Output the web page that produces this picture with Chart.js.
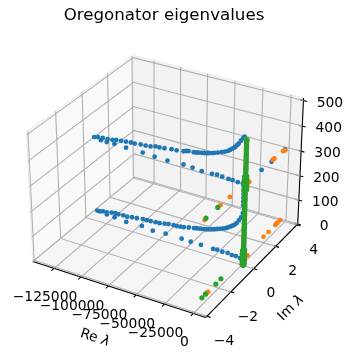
<!DOCTYPE html>
<html><head><meta charset="utf-8">
<style>html,body{margin:0;padding:0;background:#fff}canvas{display:block}</style>
<script src="https://cdn.jsdelivr.net/npm/chart.js@4"></script>
</head><body><canvas id="c" width="353" height="362"></canvas>
<script>
const titleText = "Oregonator eigenvalues";
const xLabel = "Re ", yLabel = "Im ", lambda = "λ";
const xTicks = [-125000,-100000,-75000,-50000,-25000,0];
const yTicks = [-4,-2,0,2,4];
const zTicks = [0,100,200,300,400,500];
const xLim = [-145000,10700], yLim = [-4.1,4.1], zLim = [0,510];

const blueRe = [-115900,-105100,-89800,-79000,-67300,-53000,-44900,-36800,-27800,-23300,-18800,-13400,-9800,-5300,-800,-128500,-123100,
 -134800,-131200,-126700,-122200,-117700,-114100,-109600,-105100,-100600,-97000,-91600,-87100,-82600,-78100,-74500,-70000,-63700,-59200,-53000,-50500,-48500,-44000,-41500,-39500,-37000,-35000,-32500,-30500,-28000,-26000,-23000,-19700,-17000,-14300,-12500,-10700,-9200,-8000,-6500,-5300,-3500,-1700,-400,
 -124400,-117000,-106000,-91200,-81000,-69000,-54300,-46000,-36700,-25700,-22000,-17400,-12700,-9000,-5400,-1700,
 -133600,-130900,-128100,-124400,-119800,-116100,-113300,-108700,-105000,-100400,-95800,-90300,-86600,-82900,-78300,-74600,-70000,-66300,-61700,-58900,-55500,-52400,-47800,-43200,-41000,-38600,-36300,-34000,-31700,-29400,-27000,-24700,-22400,-20100,-17800,-15500,-13600,-11800,-9900,-8100,-6700,-5400,-3500,-1700,-200,-100,-80,-70,-60,-60,-50,
 2200,3000,3150];
const blueIm = [0,0,0,0,0,0,0,0,0,0,0,0,0,0,0,0,0,
 0,0,0,0,0,0,0,0,0,0,0,0,0,0,0,0,0,0,0,0,0,0,0,0,0,0,0,0,0,0,0,0,0,0,0,0,0,0,0,0,0,0,0,
 0,0,0,0,0,0,0,0,0,0,0,0,0,0,0,0,
 0,0,0,0,0,0,0,0,0,0,0,0,0,0,0,0,0,0,0,0,0,0,0,0,0,0,0,0,0,0,0,0,0,0,0,0,0,0,0,0,0,0,0,0,0,0,0,0,0,0,0,
 1.33,2.14,3.37];
const blueZ = [339,337,336,333,332,334,332,328,329,331,329,327,327,325,327,339,338,
 344,348,350,351,353,357,359,361,363,363,366,367,369,375,375,377,381,382,386,390,392,393,395,397,399,401,403,406,409,412,417,423,428,434,440,447,452,458,466,473,486,498,505,
 40,38,33,36,30,34,33,32,32,30,32,30,32,28,29,26,
 44,44,48,48,54,56,55,57,56,60,62,66,66,67,69,70,74,77,79,79,81,83,88,92,94,96,98,100,102,105,108,112,116,120,124,128,133,139,144,150,156,163,176,190,209,240,255,270,285,300,318,
 327,327,327];

const orangeRe = [3150,3850,2370,2500,2300,2750,500,100,300,-100,100,200,0,100,0,-100,2000,-100,100,
 1000,1100,1000,1100,1000,1000,1100,1000,1000,1100,1000,1100,1000];
const orangeIm = [3.19,3.3,2.38,2.46,2.3,0.2,-1.24,-2.0,-3.3,3.2,3.5,2.4,1.95,3.05,3.25,-3.05,0.3,-2.95,-2.9,
 0,0,0,0,0,0,0,0,0,0,0,0,0];
const orangeZ = [327,327,327,327,327,327,327,327,327,28,28,28,28,28,28,28,28,28,28,
 60,105,150,195,240,285,360,385,410,435,460,485,497];

const greenRe = [0,-100,-200,0,-100,-100,
 1300,300,2200,400,2100,200,2300,500,300,2100,2200,200,2300,300,2100,400,2200,
 1300,1350,1300,1250,1300,1350,1300,1250,1300,1350,1300,1250,1300,1350,1300,1300,1250,1300,1350,1300,1250,1300,1350,1300,1250,1300,1350,1300,1300,1250,1300,1350,1300,1250,1300,1300,
 200,2400,300,2500,200,2400,300,2500,400,2300,300,2400,400,2300,
 1400,1350,1400,1450,1400,1350,1400,1450,1400,1350,1400,1450,1400,1350,1400,1450,1400,1350,1400,1450,1400,1400];
const greenIm = [-2.2,-3.15,-1.8,-2.25,-3.1,-3.4];
const greenZ = [327,327,28,28,28,28,
 0,3,8,12,16,20,24,28,31,35,39,43,47,52,56,60,65,
 70,76,82,89,95,101,108,114,120,127,133,139,146,152,158,165,171,177,184,190,197,203,209,216,222,229,235,242,248,255,261,268,274,281,287,294,
 300,305,310,315,319,323,327,331,335,339,343,348,352,357,
 362,369,376,383,390,397,404,411,418,425,432,439,446,453,460,467,474,481,488,493,495,497];

// mplot3d default view: elev 30, azim -60, dist 10, box aspect 4:4:3
const box = [1.19048,1.19048,0.89286];
const uAxis=[0.8660,0.5,0], vAxis=[-0.25,0.4330,0.8660], nAxis=[0.4330,-0.75,0.5];
function project(re,im,z){
  const d=[((re-xLim[0])/(xLim[1]-xLim[0])-.5)*box[0],((im-yLim[0])/(yLim[1]-yLim[0])-.5)*box[1],((z-zLim[0])/(zLim[1]-zLim[0])-.5)*box[2]];
  const dot=(a)=>a[0]*d[0]+a[1]*d[1]+a[2]*d[2];
  const depth=10-dot(nAxis);
  return {x:dot(uAxis)/depth,y:dot(vAxis)/depth};
}
const series=(r,i,z)=>z.map((zv,k)=>project(r[k]??0,i[k]??0,zv));
const seg=(pts,color,w)=>({type:'scatter',showLine:true,data:pts.map(p=>project(p[0],p[1],p[2])),borderColor:color,borderWidth:w,pointRadius:0,fill:false,tension:0,order:50});
const [x0,x1]=xLim,[y0,y1]=yLim,[z0,z1]=zLim;
const GRID='#b0b0b0', AXIS='#000000';
const gridSets=[
 ...xTicks.map(t=>seg([[t,y0,z0],[t,y1,z0],[t,y1,z1]],GRID,1.1)),
 ...yTicks.map(t=>seg([[x1,t,z0],[x0,t,z0],[x0,t,z1]],GRID,1.1)),
 ...zTicks.map(t=>seg([[x0,y0,t],[x0,y1,t],[x1,y1,t]],GRID,1.1)),
];
const axisSets=[
 seg([[x0,y0,z0],[x1,y0,z0]],AXIS,1.1), seg([[x1,y0,z0],[x1,y1,z0]],AXIS,1.1), seg([[x1,y1,z0],[x1,y1,z1]],AXIS,1.1),
 ...xTicks.map(t=>seg([[t,y0+.1,z0],[t,y0-.2,z0]],AXIS,1.1)),
 ...yTicks.map(t=>seg([[x1-1500,t,z0],[x1+3000,t,z0]],AXIS,1.1)),
 ...zTicks.map(t=>seg([[x1-3000,y1,t],[x1+3000,y1,t]],AXIS,1.1)),
];
const dots=(r,i,z,color,order,rad)=>({type:'scatter',data:series(r,i,z),backgroundColor:color,borderWidth:0,pointRadius:rad,order});

const fmt=v=>(v<0?'\u2212':'')+Math.abs(v);
const backdrop={id:'backdrop',beforeDatasetsDraw(ch){
  const c=ch.ctx,sx=ch.scales.x,sy=ch.scales.y;
  const P=(a,b,d)=>{const p=project(a,b,d);return [sx.getPixelForValue(p.x),sy.getPixelForValue(p.y)];};
  const poly=(pts,fill)=>{c.beginPath();pts.forEach((p,i)=>{const q=P(...p);i?c.lineTo(q[0],q[1]):c.moveTo(q[0],q[1]);});c.closePath();c.fillStyle=fill;c.fill();c.strokeStyle='#ececec';c.lineWidth=1.1;c.stroke();};
  c.save();
  poly([[x0,y0,z0],[x0,y1,z0],[x0,y1,z1],[x0,y0,z1]],'#f9f9f9');
  poly([[x0,y1,z0],[x1,y1,z0],[x1,y1,z1],[x0,y1,z1]],'#f2f2f2');
  poly([[x0,y0,z0],[x1,y0,z0],[x1,y1,z0],[x0,y1,z0]],'#f5f5f5');
  c.restore();
}};
const labels={id:'labels',afterDraw(ch){
  const c=ch.ctx,sx=ch.scales.x,sy=ch.scales.y;
  const P=(a,b,d)=>{const p=project(a,b,d);return [sx.getPixelForValue(p.x),sy.getPixelForValue(p.y)];};
  c.save();c.fillStyle='#000';c.textAlign='center';c.textBaseline='middle';
  c.font='16.67px "DejaVu Sans"';c.fillText(titleText,164,16);
  c.font='13.89px "DejaVu Sans"';
  xTicks.forEach(t=>{const q=P(t,y0,z0);c.fillText(fmt(t),q[0]-9,q[1]+29);});
  yTicks.forEach(t=>{const q=P(x1,t,z0);c.fillText(fmt(t),q[0]+17,q[1]+25);});
  zTicks.forEach(t=>{const q=P(x1,y1,t);c.fillText(fmt(t),q[0]+26.5,q[1]+2.5);});
  const rot=(txt,cx,cy,ang)=>{c.save();c.translate(cx,cy);c.rotate(ang);c.textAlign='left';
    c.font='13.89px "DejaVu Sans"';const w1=c.measureText(txt).width;
    const f2='italic 13.89px "DejaVu Sans"';c.font=f2;const w2=c.measureText(lambda).width;
    const s=-(w1+w2)/2;c.font='13.89px "DejaVu Sans"';c.fillText(txt,s,0);c.font=f2;c.fillText(lambda,s+w1,0);c.restore();};
  rot(xLabel,95,338,18*Math.PI/180);
  rot(yLabel,291,308,-45*Math.PI/180);
  c.restore();
}};
new Chart(document.getElementById('c'),{
  type:'scatter',
  data:{datasets:[...gridSets,...axisSets,dots(blueRe,blueIm,blueZ,'#1f77b4',3,2.4),dots(orangeRe,orangeIm,orangeZ,'#ff7f0e',2,2.4),dots(greenRe,greenIm,greenZ,'#2ca02c',1,2.6)]},
  options:{responsive:false,animation:false,layout:{padding:0,autoPadding:false},
    plugins:{legend:{display:false},tooltip:{enabled:false},title:{display:false}},
    scales:{x:{type:'linear',display:false,min:-0.10072,max:0.11129},y:{type:'linear',display:false,min:-0.1103,max:0.10909}}},
  plugins:[backdrop,labels]
});
</script></body></html>
